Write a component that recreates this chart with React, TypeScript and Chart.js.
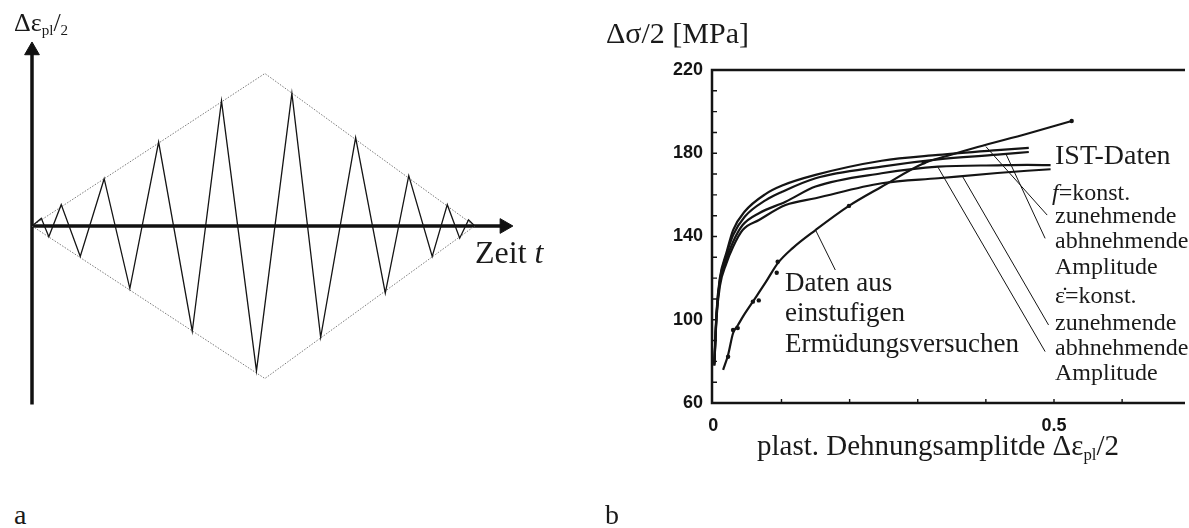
import React, { useEffect, useRef } from 'react';
import { Chart, registerables } from 'chart.js';

Chart.register(...registerables);

// ---------- Panel a: schematic amplitude sequence ----------
const ZIGZAG_T = [0, 2.1, 3.8, 6.6, 10.9, 16.3, 22.1, 28.6, 36.2, 42.8, 50.7, 58.7, 65.2, 73.1, 79.8, 85.1, 90.4, 93.8, 96.6, 98.6, 100];
const ZIGZAG_A = [0, 0.05, -0.07, 0.14, -0.2, 0.31, -0.41, 0.55, -0.69, 0.82, -0.95, 0.87, -0.73, 0.58, -0.44, 0.33, -0.2, 0.14, -0.08, 0.04, 0];
const ENVELOPE_T = [0, 52.6, 100, 52.6, 0];
const ENVELOPE_A = [0, 1, 0, -1, 0];
const TIME_AXIS_T = [0, 106.7];
const TIME_AXIS_A = [0, 0];
const AMP_AXIS_T = [0, 0];
const AMP_AXIS_A = [-1.17, 1.151];

// ---------- Panel b: cyclic stress-strain curves ----------
const SINGLE_X = [0.0143, 0.0216, 0.0289, 0.0362, 0.0434, 0.058, 0.0774, 0.0944, 0.116, 0.15, 0.199, 0.247, 0.309, 0.344, 0.388, 0.4607, 0.526];
const SINGLE_Y = [75.9, 83.1, 93.5, 97.5, 101.5, 108.7, 118.3, 127.1, 134.3, 143.1, 154.7, 163.9, 175.2, 178.8, 183, 189.4, 195.5];
const SINGLE_DOTS_X = [0.0216, 0.0289, 0.0358, 0.058, 0.0667, 0.093, 0.0944, 0.199, 0.309, 0.526];
const SINGLE_DOTS_Y = [82.2, 95.1, 96, 108.7, 109.3, 122.6, 127.9, 154.7, 175.7, 195.5];

const IST_F_INC_X = [0.0014, 0.0047, 0.0095, 0.019, 0.029, 0.046, 0.077, 0.101, 0.15, 0.247, 0.33, 0.417, 0.463];
const IST_F_INC_Y = [79, 104, 120, 132, 143.1, 152, 160.5, 164.5, 169.6, 176.4, 179.2, 181.5, 182.6];
const IST_F_DEC_X = [0.0014, 0.0047, 0.0095, 0.019, 0.029, 0.046, 0.077, 0.101, 0.15, 0.247, 0.33, 0.417, 0.463];
const IST_F_DEC_Y = [79, 103, 119, 131, 140.7, 149.5, 157.5, 161.5, 168, 173.6, 177.1, 179.3, 180.6];
const IST_E_INC_X = [0.0014, 0.0047, 0.0095, 0.019, 0.029, 0.043, 0.067, 0.106, 0.15, 0.247, 0.33, 0.417, 0.4607, 0.495];
const IST_E_INC_Y = [78, 102, 118, 129, 137.5, 145.5, 151.2, 156.7, 164, 170.4, 173.6, 174.2, 174.4, 174.3];
const IST_E_DEC_X = [0.0014, 0.0047, 0.0095, 0.019, 0.029, 0.043, 0.067, 0.106, 0.15, 0.247, 0.33, 0.417, 0.4607, 0.495];
const IST_E_DEC_Y = [78, 101, 116, 127, 135.1, 143.1, 147.9, 155.1, 158.4, 165.6, 168, 170.5, 171.6, 172.3];

// leader lines: [x0, y0, x1, y1]
const LEADER_SINGLE = [0.15, 143.1, 0.179, 123.9];
const LEADER_F_INC = [0.4, 183.2, 0.49, 150.3];
const LEADER_F_DEC = [0.429, 180.0, 0.487, 139.1];
const LEADER_E_INC = [0.366, 168.7, 0.492, 97.5];
const LEADER_E_DEC = [0.3297, 173.3, 0.487, 84.7];

const Y_LABEL_TICKS = [60, 100, 140, 180, 220];
const Y_MINOR_TICKS = [70, 80, 90, 100, 110, 120, 130, 140, 150, 160, 170, 180, 190, 200, 210];
const X_LABEL_TICKS = [0, 0.5];
const X_MINOR_TICKS = [0.1, 0.2, 0.3, 0.4, 0.5, 0.6];

const pts = (xs: number[], ys: number[]) => xs.map((x, i) => ({ x, y: ys[i] }));
const seg = (s: number[]) => [{ x: s[0], y: s[1] }, { x: s[2], y: s[3] }];

const INK = '#141414';
const SERIF = '"Liberation Serif", "Times New Roman", Times, serif';

const framePlugin = {
  id: 'frameTicks',
  afterDraw(chart: any) {
    const { ctx, chartArea: a } = chart;
    const xs = chart.scales.x;
    const ys = chart.scales.y;
    ctx.save();
    ctx.strokeStyle = INK;
    ctx.lineWidth = 2.5;
    ctx.beginPath();
    ctx.moveTo(a.right, a.top);
    ctx.lineTo(a.left, a.top);
    ctx.lineTo(a.left, a.bottom);
    ctx.lineTo(a.right, a.bottom);
    ctx.stroke();
    ctx.lineWidth = 1.4;
    ctx.beginPath();
    Y_MINOR_TICKS.forEach((v) => {
      const py = ys.getPixelForValue(v);
      ctx.moveTo(a.left, py);
      ctx.lineTo(a.left + 5, py);
    });
    X_MINOR_TICKS.forEach((v) => {
      const px = xs.getPixelForValue(v);
      ctx.moveTo(px, a.bottom);
      ctx.lineTo(px, a.bottom - 4);
    });
    ctx.stroke();
    ctx.restore();
  },
};

function Label(props: { left: number; baseline: number; size: number; children: React.ReactNode }) {
  const { left, baseline, size, children } = props;
  return (
    <div
      style={{
        position: 'absolute',
        left,
        top: baseline - 0.8375 * size,
        fontFamily: SERIF,
        fontSize: size,
        lineHeight: `${size}px`,
        color: '#1a1a1a',
        whiteSpace: 'nowrap',
      }}
    >
      {children}
    </div>
  );
}

const Sub = (p: { children: React.ReactNode }) => (
  <span style={{ fontSize: '0.58em', verticalAlign: '-0.28em', lineHeight: 0 }}>{p.children}</span>
);

export default function App() {
  const leftRef = useRef<HTMLCanvasElement>(null);
  const rightRef = useRef<HTMLCanvasElement>(null);

  useEffect(() => {
    const lineDs = (data: any[], extra: any = {}) => ({
      type: 'line',
      data,
      borderColor: INK,
      borderWidth: 1.2,
      pointRadius: 0,
      tension: 0,
      fill: false,
      clip: false,
      ...extra,
    });

    const left = new Chart(leftRef.current!, {
      type: 'scatter',
      data: {
        datasets: [
          lineDs(pts(ZIGZAG_T, ZIGZAG_A), { borderWidth: 1.3 }),
          lineDs(pts(ENVELOPE_T, ENVELOPE_A), { borderColor: '#7a7a7a', borderWidth: 1, borderDash: [1.5, 1.5] }),
          lineDs(pts(TIME_AXIS_T, TIME_AXIS_A), { borderWidth: 3.5, borderColor: '#111' }),
          lineDs(pts(AMP_AXIS_T, AMP_AXIS_A), { borderWidth: 3.5, borderColor: '#111' }),
          {
            type: 'scatter',
            data: [{ x: AMP_AXIS_T[1], y: AMP_AXIS_A[1] }],
            pointStyle: 'triangle',
            pointRadius: 8.5,
            pointRotation: 0,
            pointBackgroundColor: '#111',
            pointBorderColor: '#111',
            pointBorderWidth: 1,
            clip: false,
          },
          {
            type: 'scatter',
            data: [{ x: TIME_AXIS_T[1], y: TIME_AXIS_A[1] }],
            pointStyle: 'triangle',
            pointRadius: 8.5,
            pointRotation: 90,
            pointBackgroundColor: '#111',
            pointBorderColor: '#111',
            pointBorderWidth: 1,
            clip: false,
          },
        ] as any,
      },
      options: {
        animation: false,
        responsive: false,
        events: [],
        layout: { padding: { left: 32, right: 71, top: 43, bottom: 11 } },
        plugins: { legend: { display: false }, tooltip: { enabled: false } },
        scales: {
          x: { type: 'linear', min: 0, max: 110, display: false },
          y: { type: 'linear', min: -1.2, max: 1.2, display: false },
        },
      },
    });

    const curve = (xs: number[], ys: number[]) =>
      lineDs(pts(xs, ys), { borderWidth: 2.2, cubicInterpolationMode: 'monotone' });
    const leader = (s: number[]) => lineDs(seg(s), { borderWidth: 1 });

    const right = new Chart(rightRef.current!, {
      type: 'scatter',
      data: {
        datasets: [
          curve(SINGLE_X, SINGLE_Y),
          {
            type: 'scatter',
            data: pts(SINGLE_DOTS_X, SINGLE_DOTS_Y),
            pointRadius: 2.2,
            pointBackgroundColor: INK,
            pointBorderWidth: 0,
            clip: false,
          },
          curve(IST_F_INC_X, IST_F_INC_Y),
          curve(IST_F_DEC_X, IST_F_DEC_Y),
          curve(IST_E_INC_X, IST_E_INC_Y),
          curve(IST_E_DEC_X, IST_E_DEC_Y),
          leader(LEADER_SINGLE),
          leader(LEADER_F_INC),
          leader(LEADER_F_DEC),
          leader(LEADER_E_INC),
          leader(LEADER_E_DEC),
        ] as any,
      },
      options: {
        animation: false,
        responsive: false,
        events: [],
        layout: { padding: { left: 0, right: 0, top: 70, bottom: 0 } },
        plugins: { legend: { display: false }, tooltip: { enabled: false } },
        scales: {
          x: {
            type: 'linear',
            min: -0.002,
            max: 0.6923,
            grid: { display: false, drawTicks: false },
            border: { display: false },
            afterFit: (s: any) => {
              s.height = 125;
            },
            afterBuildTicks: (s: any) => {
              s.ticks = X_LABEL_TICKS.map((v) => ({ value: v }));
            },
            ticks: {
              autoSkip: false,
              maxRotation: 0,
              padding: 12,
              color: INK,
              font: { family: '"Liberation Sans", Arial, sans-serif', size: 18, weight: 'bold' },
              callback: (v: any) => String(v),
            },
          },
          y: {
            type: 'linear',
            min: 60,
            max: 220,
            grid: { display: false, drawTicks: false },
            border: { display: false },
            afterFit: (s: any) => {
              s.width = 112;
            },
            afterBuildTicks: (s: any) => {
              s.ticks = Y_LABEL_TICKS.map((v) => ({ value: v }));
            },
            ticks: {
              autoSkip: false,
              padding: 9,
              color: INK,
              font: { family: '"Liberation Sans", Arial, sans-serif', size: 18, weight: 'bold' },
              callback: (v: any) => String(v),
            },
          },
        },
      },
      plugins: [framePlugin],
    });

    return () => {
      left.destroy();
      right.destroy();
    };
  }, []);

  return (
    <div style={{ position: 'absolute', left: 0, top: 0, width: 1189, height: 528, background: '#fff', overflow: 'hidden' }}>
      <canvas ref={leftRef} width={590} height={420} style={{ position: 'absolute', left: 0, top: 0, width: 590, height: 420 }} />
      <canvas ref={rightRef} width={589} height={528} style={{ position: 'absolute', left: 600, top: 0, width: 589, height: 528 }} />

      <Label left={14} baseline={32} size={26}>
        Δε<Sub>pl</Sub>/<Sub>2</Sub>
      </Label>
      <Label left={475} baseline={263} size={32}>
        Zeit <i>t</i>
      </Label>
      <Label left={14} baseline={524} size={28}>a</Label>
      <Label left={605} baseline={524} size={28}>b</Label>

      <Label left={606} baseline={43} size={30}>Δσ/2 [MPa]</Label>
      <Label left={1055} baseline={164} size={28}>IST-Daten</Label>
      <Label left={1052} baseline={200} size={24}>
        <i>f</i>=konst.
      </Label>
      <Label left={1055} baseline={223} size={24}>zunehmende</Label>
      <Label left={1055} baseline={248} size={24}>abhnehmende</Label>
      <Label left={1055} baseline={274} size={24}>Amplitude</Label>
      <Label left={1055} baseline={303} size={24}>ε̇=konst.</Label>
      <Label left={1055} baseline={330} size={24}>zunehmende</Label>
      <Label left={1055} baseline={355} size={24}>abhnehmende</Label>
      <Label left={1055} baseline={380} size={24}>Amplitude</Label>

      <Label left={785} baseline={292} size={27}>Daten aus</Label>
      <Label left={785} baseline={322} size={27}>einstufigen</Label>
      <Label left={785} baseline={353} size={27}>Ermüdungsversuchen</Label>

      <Label left={757} baseline={455} size={29}>
        plast. Dehnungsamplitde Δε<Sub>pl</Sub>/2
      </Label>
    </div>
  );
}
